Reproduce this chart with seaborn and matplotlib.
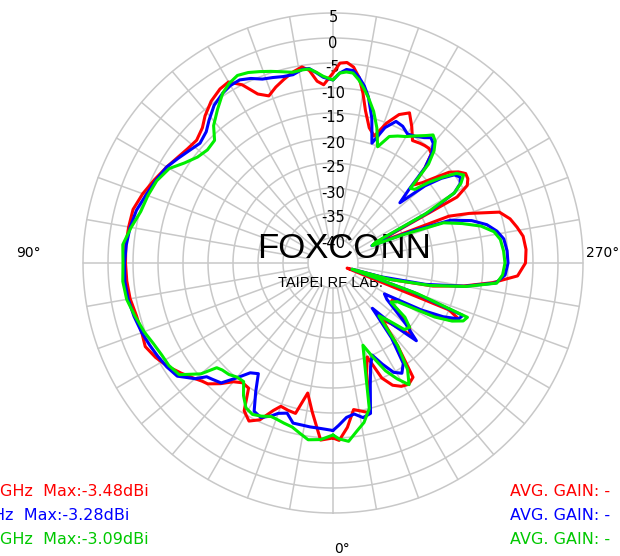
import numpy as np
import pandas as pd
import matplotlib
matplotlib.use("Agg")
import matplotlib.pyplot as plt
import seaborn as sns

# Measured angles (deg) shared by the three traces
angles = [0, 4, 8, 11, 14, 17, 20, 22, 25, 28,
          31, 34, 37, 40, 43, 46, 48, 50, 54, 58,
          62, 66, 70, 75, 80, 85, 90, 95, 100, 105,
          110, 115, 120, 124, 128, 132, 136, 139, 143, 147,
          150, 153, 156, 159, 162, 165, 168, 171, 173, 175,
          177, 180, 182, 184, 186, 188, 190, 192, 195, 198,
          201, 204, 207, 210, 213, 216, 218, 220, 222, 224,
          226, 228, 230, 232, 234, 236, 238, 240, 242, 244,
          246, 248, 250, 253, 256, 259, 262, 266, 270, 274,
          277, 280, 283, 286, 288, 290, 292, 294, 296, 298,
          301, 304, 307, 310, 313, 316, 319, 322, 325, 328,
          331, 334, 337, 340, 343, 346, 349, 352, 355, 358,
          360]

# Gain in dBi
gain_red = [-10.0, -9.5, -15.0, -18.5, -14.0, -14.2, -14.5, -13.2, -10.4, -9.2,
            -10.5, -14.8, -15.0, -14.0, -12.0, -10.2, -9.7, -9.0, -7.5, -6.0,
            -4.8, -3.9, -4.3, -4.3, -3.8, -3.6, -3.5, -3.4, -3.5, -3.6,
            -4.5, -5.6, -6.6, -7.4, -8.0, -8.3, -7.4, -6.0, -4.5, -3.5,
            -3.2, -5.0, -8.0, -9.2, -8.0, -7.0, -6.0, -5.3, -6.2, -8.5,
            -9.3, -7.0, -5.0, -4.8, -5.6, -7.5, -10.5, -13.8, -17.0, -18.3,
            -15.0, -12.5, -11.3, -13.5, -15.8, -15.4, -15.2, -15.1, -15.6, -18.5,
            -22.5, -21.0, -18.5, -15.5, -14.0, -13.0, -13.2, -14.0, -16.9, -33.0,
            -35.0, -20.0, -16.0, -10.2, -8.5, -7.5, -6.6, -6.3, -6.5, -8.0,
            -12.8, -18.5, -24.5, -33.0, -40.0, -42.0, -20.0, -17.5, -19.0, -23.0,
            -31.0, -31.0, -28.0, -25.0, -24.0, -28.0, -30.0, -24.0, -17.1, -16.4,
            -16.8, -17.8, -20.0, -25.0, -22.0, -14.1, -14.8, -15.4, -12.0, -9.5,
            -10.0]

gain_blue = [-11.5, -11.8, -11.9, -12.0, -12.0, -13.6, -13.0, -12.0, -10.9, -11.4,
             -15.0, -18.3, -17.5, -15.0, -12.2, -11.5, -11.0, -9.0, -6.5, -5.8,
             -5.3, -4.8, -4.3, -3.8, -3.4, -3.2, -3.3, -3.5, -3.8, -4.3,
             -5.2, -5.9, -6.6, -7.6, -8.5, -9.2, -8.5, -7.2, -5.5, -4.5,
             -4.0, -3.9, -4.6, -5.6, -6.0, -6.4, -6.5, -5.8, -5.8, -6.8,
             -7.8, -8.4, -7.0, -6.2, -6.3, -7.5, -9.0, -11.0, -15.0, -19.8,
             -16.0, -14.0, -14.3, -15.2, -14.8, -14.0, -13.2, -13.8, -15.5, -18.5,
             -24.0, -27.0, -21.0, -17.5, -15.0, -14.3, -15.0, -17.0, -23.0, -34.0,
             -36.5, -28.0, -20.0, -16.0, -13.3, -11.6, -10.5, -10.1, -10.0, -10.5,
             -12.2, -18.2, -26.0, -35.0, -41.0, -28.0, -17.0, -17.5, -20.5, -25.0,
             -33.0, -32.0, -29.5, -26.0, -22.2, -28.0, -33.0, -26.0, -20.5, -19.0,
             -20.0, -22.5, -25.0, -23.0, -19.5, -14.0, -13.5, -14.5, -14.0, -12.5,
             -11.5]

gain_green = [-10.6, -9.6, -9.3, -10.3, -11.2, -11.5, -11.8, -11.9, -11.2, -10.7,
              -11.2, -13.0, -15.3, -15.2, -14.5, -14.2, -13.7, -10.5, -7.0, -6.3,
              -6.1, -5.6, -4.8, -4.0, -3.1, -2.8, -3.0, -2.8, -4.0, -5.2,
              -5.6, -6.1, -7.2, -9.2, -10.6, -11.2, -10.9, -8.6, -6.6, -4.5,
              -3.5, -2.9, -3.3, -4.0, -4.7, -5.4, -6.0, -5.9, -5.9, -6.7,
              -7.6, -8.4, -7.0, -6.7, -6.8, -8.0, -9.5, -11.1, -13.6, -16.6,
              -20.1, -17.3, -16.5, -15.8, -14.7, -13.5, -12.5, -13.2, -14.8, -17.5,
              -23.5, -23.0, -19.8, -17.1, -14.5, -13.5, -14.8, -17.0, -24.0, -35.5,
              -36.4, -30.0, -21.5, -18.0, -14.5, -12.2, -11.2, -10.8, -10.6, -11.0,
              -12.0, -18.0, -25.0, -33.0, -41.0, -27.0, -16.0, -16.5, -18.5, -22.0,
              -30.0, -31.0, -27.0, -25.0, -25.5, -29.0, -31.0, -24.0, -19.0, -16.3,
              -18.5, -21.0, -24.5, -27.5, -23.0, -15.0, -12.5, -11.0, -9.2, -9.8,
              -10.6]

series_names = ["red", "blue", "green"]
line_colors = ["#ff0000", "#0000ff", "#00ee00"]
max_labels = ["GHz  Max:-3.48dBi", "Hz  Max:-3.28dBi", "GHz  Max:-3.09dBi"]
text_colors = ["#ff0000", "#0000ff", "#00c800"]
ring_values = [-40, -35, -30, -25, -20, -15, -10, -5, 0, 5]

df = pd.DataFrame({
    "theta": np.deg2rad(angles * 3),
    "gain": gain_red + gain_blue + gain_green,
    "series": np.repeat(series_names, len(angles)),
})

sns.set_style("white")
plt.rcParams["font.family"] = ["DejaVu Sans"]
plt.rcParams["text.color"] = "black"

fig = plt.figure(figsize=(6.2, 5.56), dpi=100)
ax = fig.add_axes([83 / 620, 43 / 556, 500 / 620, 500 / 556], projection="polar")
ax.set_theta_zero_location("S")
ax.set_theta_direction(-1)
ax.set_ylim(-45, 5)
ax.axis("off")

# grid
grid_c = "#c8c8c8"
full = np.linspace(0, 2 * np.pi, 721)
for v in ring_values:
    ax.plot(full, np.full_like(full, v), color=grid_c, lw=1.1, zorder=1, clip_on=False)
for a in range(0, 360, 10):
    t = np.deg2rad(a)
    ax.plot([t, t], [-40, 5], color=grid_c, lw=1.1, zorder=1, clip_on=False)

# radial labels along the top spoke
for v in ring_values:
    ax.text(np.pi, v - 1.0, str(v), ha="center", va="center", fontsize=10.5,
            color="black", zorder=2)

# watermark
ax.text(344 / 620, 1 - 249 / 556, "FOXCONN", transform=fig.transFigure, color="black",
        ha="center", va="center", fontsize=25, family="Liberation Sans", zorder=2)
ax.text(330 / 620, 1 - 283 / 556, "TAIPEI RF LAB.", transform=fig.transFigure, color="black",
        ha="center", va="center", fontsize=10.5, family="Liberation Sans", zorder=2)

sns.lineplot(data=df, x="theta", y="gain", hue="series", palette=line_colors,
             hue_order=series_names, sort=False, estimator=None, lw=2.2,
             legend=False, ax=ax, zorder=3)
for ln in ax.get_lines()[-3:]:
    ln.set_clip_on(False)

# angle labels
fig.text(28 / 620, 1 - 253 / 556, "90°", ha="center", va="center", fontsize=10)
fig.text(603 / 620, 1 - 253 / 556, "270°", ha="center", va="center", fontsize=10)
fig.text(342 / 620, 1 - 549 / 556, "0°", ha="center", va="center", fontsize=10)

# legend text
rows_y = [492, 516, 539]
left_x = [0, -7, 0]
for lab, col, y, x in zip(max_labels, text_colors, rows_y, left_x):
    fig.text(x / 620, 1 - y / 556, lab, color=col, ha="left", va="center", fontsize=11.5)
    fig.text(510 / 620, 1 - y / 556, "AVG. GAIN: -", color=col, ha="left", va="center",
             fontsize=11.5)

fig.savefig("out.png", dpi=100)
